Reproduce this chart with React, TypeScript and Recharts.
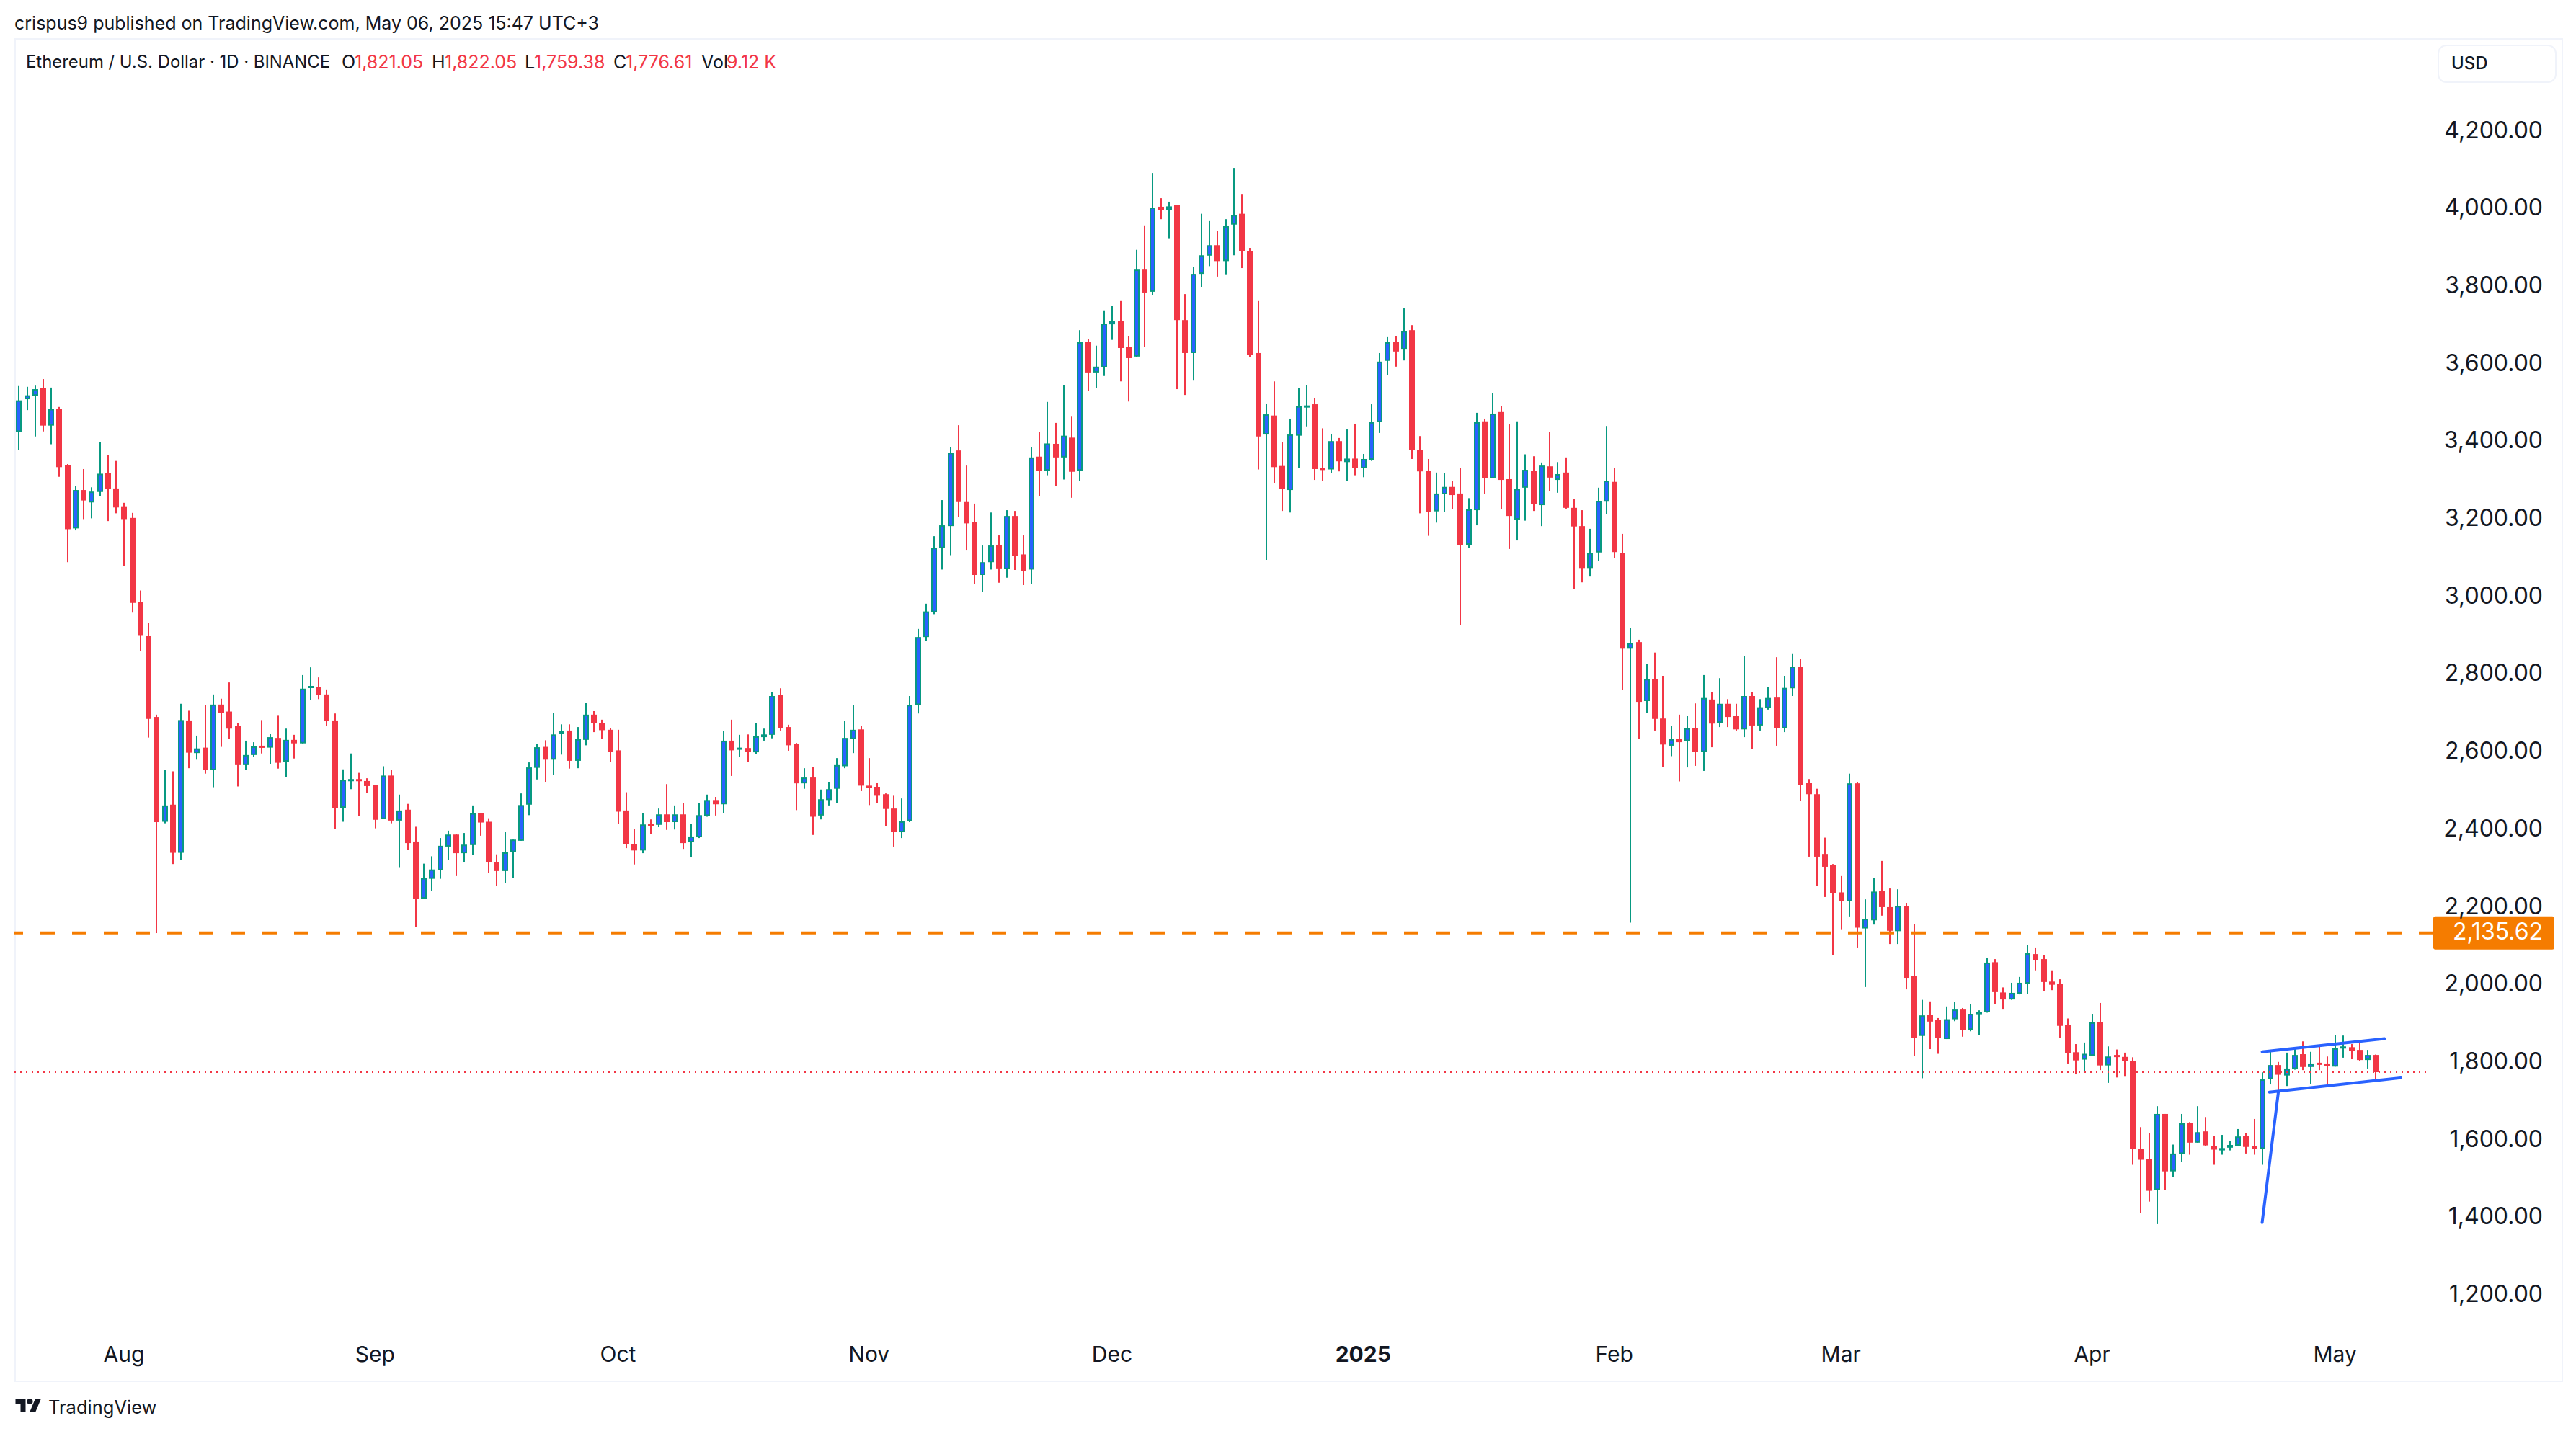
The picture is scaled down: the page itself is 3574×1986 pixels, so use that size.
import { Bar, ComposedChart, ReferenceLine, XAxis, YAxis } from 'recharts';

const opens = [
  3427, 3511, 3520, 3539, 3443, 3486, 3341, 3178, 3277, 3245,
  3272, 3321, 3281, 3235, 3205, 2989, 2902, 2692, 2422, 2466,
  2342, 2683, 2599, 2613, 2555, 2724, 2706, 2668, 2568, 2594,
  2618, 2613, 2638, 2577, 2633, 2624, 2770, 2770, 2750, 2683,
  2458, 2530, 2532, 2527, 2516, 2429, 2541, 2425, 2453, 2371,
  2224, 2275, 2297, 2358, 2389, 2341, 2362, 2444, 2422, 2317,
  2295, 2344, 2373, 2466, 2561, 2615, 2582, 2648, 2657, 2579,
  2633, 2698, 2677, 2659, 2606, 2451, 2365, 2348, 2417, 2414,
  2441, 2421, 2441, 2369, 2382, 2437, 2478, 2467, 2631, 2611,
  2612, 2601, 2640, 2646, 2748, 2666, 2622, 2521, 2536, 2438,
  2478, 2507, 2565, 2635, 2660, 2515, 2512, 2493, 2456, 2395,
  2424, 2723, 2898, 2962, 3127, 3184, 3379, 3246, 3194, 3058,
  3091, 3136, 3073, 3210, 3111, 3072, 3363, 3327, 3396, 3361,
  3412, 3327, 3658, 3580, 3593, 3704, 3712, 3645, 3621, 3845,
  3788, 4007, 3999, 4011, 3715, 3630, 3834, 3881, 3908, 3867,
  3961, 3989, 3892, 3630, 3420, 3469, 3339, 3277, 3417, 3493,
  3498, 3334, 3330, 3403, 3349, 3358, 3333, 3355, 3452, 3610,
  3658, 3639, 3689, 3381, 3327, 3222, 3266, 3285, 3268, 3136,
  3225, 3454, 3307, 3478, 3305, 3201, 3283, 3327, 3238, 3338,
  3303, 3322, 3231, 3184, 3076, 3116, 3247, 3298, 3115, 2868,
  2885, 2733, 2790, 2688, 2618, 2635, 2630, 2664, 2602, 2737,
  2677, 2726, 2694, 2660, 2746, 2670, 2715, 2742, 2663, 2766,
  2822, 2523, 2493, 2339, 2310, 2240, 2217, 2521, 2147, 2168,
  2244, 2202, 2140, 2205, 2024, 1870, 1925, 1911, 1862, 1913,
  1938, 1886, 1926, 1931, 2060, 1982, 1964, 1979, 2005, 2081,
  2068, 2010, 2004, 1898, 1828, 1809, 1819, 1905, 1794, 1821,
  1816, 1806, 1578, 1552, 1473, 1669, 1521, 1566, 1645, 1595,
  1624, 1587, 1575, 1582, 1587, 1613, 1587, 1579, 1759, 1795,
  1768, 1785, 1823, 1790, 1801, 1799, 1791, 1840, 1841, 1834, 1808, 1821.05,
];

const highs = [
  3545, 3543, 3546, 3563, 3541, 3491, 3344, 3287, 3331, 3284,
  3400, 3368, 3352, 3244, 3218, 3018, 2934, 2698, 2555, 2552,
  2726, 2708, 2644, 2722, 2750, 2739, 2781, 2677, 2631, 2627,
  2684, 2649, 2697, 2662, 2646, 2800, 2820, 2794, 2763, 2701,
  2557, 2598, 2548, 2534, 2517, 2565, 2555, 2492, 2468, 2409,
  2314, 2333, 2380, 2399, 2391, 2393, 2464, 2444, 2431, 2338,
  2395, 2376, 2495, 2575, 2622, 2632, 2703, 2673, 2673, 2666,
  2729, 2707, 2685, 2664, 2659, 2498, 2404, 2445, 2428, 2456,
  2519, 2464, 2471, 2417, 2471, 2492, 2486, 2655, 2685, 2646,
  2647, 2676, 2662, 2757, 2766, 2672, 2625, 2560, 2564, 2505,
  2525, 2586, 2681, 2723, 2668, 2586, 2523, 2495, 2489, 2482,
  2746, 2919, 2984, 3158, 3251, 3388, 3444, 3340, 3242, 3134,
  3219, 3160, 3225, 3223, 3160, 3388, 3427, 3504, 3450, 3548,
  3466, 3689, 3667, 3649, 3740, 3752, 3764, 3673, 3896, 3959,
  4094, 4029, 4020, 4011, 3782, 3851, 3989, 3970, 3944, 3975,
  4107, 4040, 3901, 3764, 3500, 3557, 3400, 3461, 3539, 3547,
  3513, 3436, 3422, 3411, 3433, 3448, 3370, 3498, 3630, 3671,
  3674, 3745, 3702, 3416, 3357, 3322, 3320, 3300, 3334, 3256,
  3476, 3461, 3527, 3494, 3446, 3454, 3369, 3364, 3348, 3427,
  3349, 3361, 3253, 3225, 3177, 3283, 3442, 3333, 3164, 2922,
  2891, 2828, 2858, 2798, 2668, 2698, 2694, 2727, 2800, 2757,
  2792, 2738, 2726, 2850, 2757, 2738, 2770, 2846, 2798, 2856,
  2841, 2532, 2507, 2381, 2313, 2282, 2546, 2525, 2222, 2278,
  2321, 2250, 2248, 2213, 2159, 1963, 1959, 1916, 1946, 1957,
  1942, 1953, 1936, 2070, 2068, 1995, 2007, 2022, 2105, 2098,
  2079, 2039, 2016, 1915, 1849, 1853, 1927, 1955, 1843, 1835,
  1827, 1815, 1635, 1619, 1689, 1669, 1590, 1669, 1648, 1689,
  1661, 1613, 1615, 1600, 1630, 1619, 1656, 1776, 1829, 1803,
  1827, 1840, 1856, 1829, 1843, 1817, 1873, 1871, 1849, 1851, 1834, 1822.05,
];

const lows = [
  3380, 3483, 3415, 3428, 3395, 3311, 3091, 3173, 3202, 3204,
  3261, 3197, 3217, 3081, 2961, 2862, 2639, 2135, 2418, 2313,
  2324, 2560, 2582, 2546, 2511, 2615, 2635, 2513, 2555, 2590,
  2598, 2570, 2559, 2538, 2585, 2624, 2735, 2738, 2668, 2404,
  2422, 2506, 2436, 2496, 2405, 2429, 2418, 2305, 2350, 2151,
  2224, 2243, 2275, 2323, 2282, 2317, 2336, 2386, 2290, 2256,
  2265, 2278, 2373, 2439, 2531, 2525, 2542, 2595, 2559, 2560,
  2619, 2653, 2636, 2577, 2417, 2354, 2312, 2341, 2391, 2408,
  2401, 2402, 2352, 2330, 2380, 2435, 2438, 2445, 2540, 2590,
  2577, 2597, 2631, 2637, 2657, 2605, 2452, 2507, 2388, 2428,
  2464, 2471, 2560, 2599, 2501, 2465, 2471, 2410, 2358, 2380,
  2421, 2701, 2889, 2957, 3072, 3109, 3208, 3121, 3034, 3014,
  3072, 3038, 3051, 3071, 3032, 3034, 3261, 3315, 3288, 3304,
  3257, 3301, 3532, 3539, 3571, 3664, 3557, 3505, 3620, 3645,
  3779, 3975, 3926, 3537, 3522, 3559, 3799, 3854, 3827, 3833,
  3882, 3849, 3619, 3330, 3097, 3294, 3223, 3219, 3333, 3441,
  3303, 3301, 3320, 3325, 3300, 3315, 3310, 3352, 3424, 3574,
  3595, 3611, 3357, 3217, 3159, 3193, 3220, 3227, 2928, 3127,
  3186, 3266, 3307, 3227, 3125, 3147, 3198, 3223, 3184, 3275,
  3270, 3229, 3021, 3039, 3054, 3095, 3214, 3102, 2761, 2162,
  2636, 2702, 2657, 2564, 2591, 2526, 2562, 2566, 2553, 2614,
  2666, 2666, 2657, 2640, 2609, 2657, 2711, 2618, 2653, 2746,
  2475, 2332, 2256, 2228, 2078, 2145, 2178, 2098, 1996, 2157,
  2180, 2107, 2107, 1990, 1818, 1761, 1836, 1824, 1862, 1908,
  1868, 1882, 1873, 1930, 1953, 1938, 1963, 1977, 1979, 2039,
  1985, 1988, 1865, 1799, 1771, 1778, 1819, 1782, 1749, 1763,
  1765, 1538, 1413, 1443, 1385, 1473, 1506, 1546, 1564, 1595,
  1586, 1538, 1564, 1575, 1586, 1567, 1564, 1538, 1745, 1726,
  1741, 1783, 1782, 1747, 1782, 1739, 1791, 1814, 1810, 1806, 1786, 1759.38,
];

const closes = [
  3508, 3521, 3537, 3443, 3486, 3336, 3176, 3277, 3250, 3273,
  3319, 3280, 3232, 3202, 2986, 2903, 2687, 2421, 2464, 2342,
  2684, 2600, 2611, 2555, 2724, 2702, 2662, 2568, 2594, 2616,
  2614, 2640, 2574, 2633, 2624, 2765, 2772, 2748, 2681, 2458,
  2530, 2532, 2529, 2514, 2427, 2541, 2425, 2451, 2367, 2224,
  2277, 2299, 2360, 2389, 2341, 2363, 2444, 2420, 2317, 2295,
  2343, 2376, 2465, 2562, 2614, 2582, 2647, 2655, 2579, 2635,
  2698, 2676, 2658, 2602, 2448, 2364, 2348, 2415, 2415, 2441,
  2421, 2441, 2367, 2384, 2439, 2478, 2467, 2631, 2606, 2613,
  2603, 2642, 2647, 2746, 2664, 2619, 2521, 2536, 2435, 2480,
  2506, 2568, 2638, 2659, 2515, 2511, 2489, 2455, 2395, 2423,
  2723, 2898, 2964, 3128, 3186, 3373, 3246, 3191, 3058, 3091,
  3134, 3075, 3210, 3108, 3069, 3361, 3327, 3397, 3361, 3417,
  3324, 3658, 3580, 3595, 3706, 3712, 3643, 3617, 3845, 3786,
  4005, 3999, 4008, 3715, 3630, 3834, 3882, 3908, 3867, 3957,
  3986, 3892, 3625, 3415, 3472, 3336, 3279, 3420, 3493, 3495,
  3331, 3332, 3403, 3351, 3358, 3333, 3357, 3452, 3608, 3658,
  3634, 3687, 3381, 3325, 3220, 3268, 3285, 3264, 3136, 3227,
  3452, 3307, 3474, 3303, 3210, 3280, 3329, 3241, 3340, 3309,
  3318, 3231, 3183, 3076, 3115, 3249, 3301, 3117, 2868, 2883,
  2731, 2790, 2687, 2621, 2635, 2627, 2663, 2602, 2741, 2675,
  2726, 2692, 2660, 2746, 2670, 2717, 2741, 2663, 2767, 2822,
  2517, 2493, 2332, 2306, 2238, 2217, 2521, 2149, 2172, 2242,
  2202, 2141, 2205, 2018, 1864, 1923, 1907, 1864, 1913, 1938,
  1886, 1927, 1932, 2059, 1983, 1964, 1981, 2007, 2083, 2066,
  2009, 2002, 1896, 1826, 1807, 1824, 1905, 1794, 1817, 1817,
  1805, 1579, 1551, 1471, 1669, 1521, 1567, 1645, 1595, 1622,
  1588, 1577, 1581, 1589, 1611, 1584, 1579, 1758, 1795, 1770,
  1786, 1821, 1790, 1799, 1798, 1793, 1838, 1843, 1832, 1808, 1821, 1776.61,
];

// candle index of the first day of each month on the time scale
const monthTicks = [13, 44, 74, 105, 135, 166, 197, 225, 256, 286];
const monthLabels = ['Aug', 'Sep', 'Oct', 'Nov', 'Dec', '2025', 'Feb', 'Mar', 'Apr', 'May'];
const priceTicks = [1200, 1400, 1600, 1800, 2000, 2200, 2400, 2600, 2800, 3000, 3200, 3400, 3600, 3800, 4000, 4200];

const supportLevel = 2135.62;
const lastClose = 1776.61;

// hand drawn flag, [index, price] at both ends
const flagPole = [[277, 1389], [279, 1725]];
const flagUpper = [[277, 1829], [292.1, 1863]];
const flagLower = [[277.9, 1725], [294.1, 1762]];
// the last price line stops a little short of the price scale
const lastCloseLine = [[-0.525, lastClose], [297.7, lastClose]];

const legendPieces = [
  { text: 'Ethereum / U.S. Dollar · 1D · BINANCE', left: 36, size: 23.9, color: '#131722' },
  { text: 'O', left: 474, size: 25, color: '#131722' },
  { text: '1,821.05', left: 492, size: 25, color: '#f23645' },
  { text: 'H', left: 599, size: 25, color: '#131722' },
  { text: '1,822.05', left: 617, size: 25, color: '#f23645' },
  { text: 'L', left: 728, size: 25, color: '#131722' },
  { text: '1,759.38', left: 741, size: 25, color: '#f23645' },
  { text: 'C', left: 851, size: 25, color: '#131722' },
  { text: '1,776.61', left: 868, size: 25, color: '#f23645' },
  { text: 'Vol', left: 973, size: 25, color: '#131722' },
  { text: '9.12 K', left: 1008, size: 25, color: '#f23645' },
];

const rows = opens.map((open, idx) => ({
  idx,
  open,
  high: highs[idx],
  low: lows[idx],
  close: closes[idx],
}));

const UP = '#089981';
const UP_FILL = '#2962ff';
const DOWN = '#f23645';
const FONT = 'Inter, sans-serif';
const INK = '#131722';

const Candle = (props: any) => {
  const { x, y, width, height, payload } = props;
  const { open, high, low, close } = payload;
  const top = Math.min(y, y + height);
  const h = Math.abs(height);
  const perPrice = h / (high - low);
  const cx = Math.round(x + width / 2);
  const isUp = close >= open;
  const color = isUp ? UP : DOWN;
  const bodyTop = top + (high - Math.max(open, close)) * perPrice;
  const bodyH = Math.max(Math.abs(open - close) * perPrice, 3);
  return (
    <g>
      <rect x={cx - 1} y={top} width={2} height={h} fill={color} />
      <rect x={cx - 4} y={bodyTop} width={8} height={bodyH} fill={color} />
      {isUp && bodyH > 4 && (
        <rect x={cx - 2} y={bodyTop + 2} width={4} height={bodyH - 4} fill={UP_FILL} />
      )}
    </g>
  );
};

const PriceTick = (props: any) => {
  const { x, y, payload } = props;
  return (
    <text x={x + 144} y={y - 3} textAnchor="end" dominantBaseline="central" fill={INK} fontFamily={FONT} fontSize={32}>
      {payload.value.toLocaleString('en-US', { minimumFractionDigits: 2 })}
    </text>
  );
};

const MonthTick = (props: any) => {
  const { x, y, payload } = props;
  const label = monthLabels[monthTicks.indexOf(payload.value)];
  return (
    <text
      x={x}
      y={y + 21}
      textAnchor="middle"
      dominantBaseline="central"
      fill={INK}
      fontFamily={FONT}
      fontSize={30}
      fontWeight={label === '2025' ? 700 : 400}
    >
      {label}
    </text>
  );
};

const PriceTag = (props: any) => {
  const { viewBox } = props;
  const right = viewBox.x + viewBox.width;
  const y = viewBox.y;
  return (
    <g>
      <rect x={right} y={y - 23} width={168} height={46} rx={3} fill="#f57c00" />
      <text x={right + 152} y={y - 2} textAnchor="end" dominantBaseline="central" fill="#fff" fontFamily={FONT} fontSize={32}>
        2,135.62
      </text>
    </g>
  );
};

const toSegment = (pts: number[][]) => pts.map(([x, y]) => ({ x, y })) as any;

const paneBorder = '2px solid #f0f3fa';

export default function App() {
  return (
    <div style={{ position: 'absolute', left: 0, top: 0, width: 3574, height: 1986, background: '#fff', fontFamily: FONT, color: INK, overflow: 'hidden' }}>
      <div style={{ position: 'absolute', left: 20, top: 53, width: 3532, height: 1861, borderLeft: paneBorder, borderRight: paneBorder, borderTop: paneBorder, borderBottom: paneBorder }} />

      <ComposedChart
        width={3574}
        height={1986}
        data={rows}
        margin={{ top: 54, right: 20, bottom: 71, left: 20 }}
        style={{ position: 'absolute', left: 0, top: 0 }}
      >
        <XAxis
          dataKey="idx"
          type="number"
          domain={[-0.525, 298.13]}
          allowDataOverflow
          ticks={monthTicks}
          interval={0}
          axisLine={false}
          tickLine={false}
          height={65}
          tick={MonthTick}
        />
        <YAxis
          orientation="right"
          type="number"
          domain={[1104.4, 4439.6]}
          allowDataOverflow
          ticks={priceTicks}
          interval={0}
          axisLine={false}
          tickLine={false}
          width={178}
          tick={PriceTick}
        />
        <ReferenceLine segment={toSegment(lastCloseLine)} stroke={DOWN} strokeWidth={2} strokeDasharray="2 6" />
        <ReferenceLine y={supportLevel} stroke="#f57c00" strokeWidth={4} strokeDasharray="20 24" label={<PriceTag />} />
        <Bar
          dataKey={(d: any) => [d.low, d.high]}
          barSize={8}
          shape={Candle}
          isAnimationActive={false}
        />
        <ReferenceLine segment={toSegment(flagPole)} stroke={UP_FILL} strokeWidth={4} strokeLinecap="round" ifOverflow="visible" />
        <ReferenceLine segment={toSegment(flagUpper)} stroke={UP_FILL} strokeWidth={4} strokeLinecap="round" ifOverflow="visible" />
        <ReferenceLine segment={toSegment(flagLower)} stroke={UP_FILL} strokeWidth={4} strokeLinecap="round" ifOverflow="visible" />
      </ComposedChart>

      <div style={{ position: 'absolute', left: 20, top: 16, fontSize: 25, lineHeight: '32px', whiteSpace: 'nowrap' }}>
        crispus9 published on TradingView.com, May 06, 2025 15:47 UTC+3
      </div>

      {legendPieces.map((piece) => (
        <span key={piece.left} style={{ position: 'absolute', left: piece.left, top: 70, fontSize: piece.size, lineHeight: '32px', color: piece.color, whiteSpace: 'nowrap' }}>
          {piece.text}
        </span>
      ))}

      <div style={{ position: 'absolute', left: 3382, top: 62, width: 161, height: 49, border: paneBorder, borderRadius: 12, background: '#fff' }} />
      <span style={{ position: 'absolute', left: 3401, top: 72, fontSize: 24, lineHeight: '32px', fontWeight: 500 }}>USD</span>

      <svg style={{ position: 'absolute', left: 20, top: 1941 }} width={39} height={18} viewBox="0 4 36 18">
        <path d="M14 22H7V11H0V4h14v18zM28 22h-8l7.5-18h8L28 22z" fill={INK} />
        <circle cx={20} cy={8} r={4} fill={INK} />
      </svg>
      <span style={{ position: 'absolute', left: 67, top: 1937, fontSize: 25.5, lineHeight: '32px', whiteSpace: 'nowrap' }}>TradingView</span>
    </div>
  );
}
